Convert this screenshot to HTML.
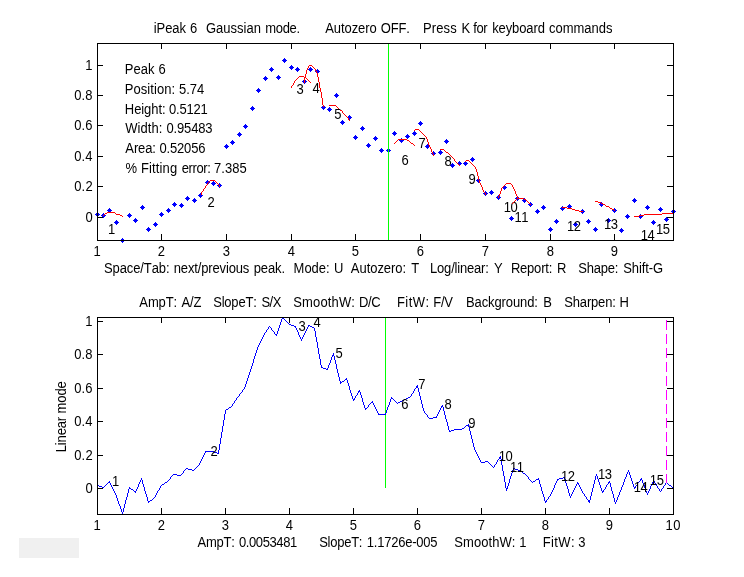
<!DOCTYPE html>
<html><head><meta charset="utf-8"><title>iPeak 6</title>
<style>
html,body{margin:0;padding:0;background:#fff;}
body{width:744px;height:577px;overflow:hidden;}
svg{display:block;}
text{font-family:"Liberation Sans",Arial,Helvetica,sans-serif;font-size:13.0px;fill:#000;white-space:pre;font-kerning:none;}
.ax{stroke:#000;stroke-width:1;fill:none;shape-rendering:crispEdges;}
.ln{stroke-width:1;fill:none;}
</style></head>
<body>
<svg width="744" height="577" viewBox="0 0 744 577">
<rect x="0" y="0" width="744" height="577" fill="#fff"/>
<rect x="19" y="538" width="60" height="20" fill="#f0f0f0"/>
<text transform="translate(0 256) scale(1 1.08)"><tspan x="93.61">1</tspan></text>
<text transform="translate(0 256) scale(1 1.08)"><tspan x="157.79">2</tspan></text>
<text transform="translate(0 256) scale(1 1.08)"><tspan x="222.82">3</tspan></text>
<text transform="translate(0 256) scale(1 1.08)"><tspan x="287.83">4</tspan></text>
<text transform="translate(0 256) scale(1 1.08)"><tspan x="351.8">5</tspan></text>
<text transform="translate(0 256) scale(1 1.08)"><tspan x="416.74">6</tspan></text>
<text transform="translate(0 256) scale(1 1.08)"><tspan x="481.78">7</tspan></text>
<text transform="translate(0 256) scale(1 1.08)"><tspan x="546.79">8</tspan></text>
<text transform="translate(0 256) scale(1 1.08)"><tspan x="610.79">9</tspan></text>
<text transform="translate(0 222) scale(1 1.08)"><tspan x="85.39">0</tspan></text>
<text transform="translate(0 191) scale(1 1.08)"><tspan x="74.19" style="letter-spacing:0.19px">0.2</tspan></text>
<text transform="translate(0 161) scale(1 1.08)"><tspan x="74.19" style="letter-spacing:0.06px">0.4</tspan></text>
<text transform="translate(0 130) scale(1 1.08)"><tspan x="74.19" style="letter-spacing:0.15px">0.6</tspan></text>
<text transform="translate(0 100) scale(1 1.08)"><tspan x="74.19" style="letter-spacing:0.15px">0.8</tspan></text>
<text transform="translate(0 70) scale(1 1.08)"><tspan x="85.21">1</tspan></text>
<path d="M97 212h1v1h1v1h1v1h-1v1h-1v1h-1v-1h-1v-1h-1v-1h1v-1h1zM103 213h1v1h1v1h1v1h-1v1h-1v1h-1v-1h-1v-1h-1v-1h1v-1h1zM109 208h1v1h1v1h1v1h-1v1h-1v1h-1v-1h-1v-1h-1v-1h1v-1h1zM116 220h1v1h1v1h1v1h-1v1h-1v1h-1v-1h-1v-1h-1v-1h1v-1h1zM122 238h1v1h1v1h1v1h-1v1h-1v1h-1v-1h-1v-1h-1v-1h1v-1h1zM129 213h1v1h1v1h1v1h-1v1h-1v1h-1v-1h-1v-1h-1v-1h1v-1h1zM135 218h1v1h1v1h1v1h-1v1h-1v1h-1v-1h-1v-1h-1v-1h1v-1h1zM142 205h1v1h1v1h1v1h-1v1h-1v1h-1v-1h-1v-1h-1v-1h1v-1h1zM148 227h1v1h1v1h1v1h-1v1h-1v1h-1v-1h-1v-1h-1v-1h1v-1h1zM155 222h1v1h1v1h1v1h-1v1h-1v1h-1v-1h-1v-1h-1v-1h1v-1h1zM161 212h1v1h1v1h1v1h-1v1h-1v1h-1v-1h-1v-1h-1v-1h1v-1h1zM168 208h1v1h1v1h1v1h-1v1h-1v1h-1v-1h-1v-1h-1v-1h1v-1h1zM174 202h1v1h1v1h1v1h-1v1h-1v1h-1v-1h-1v-1h-1v-1h1v-1h1zM181 203h1v1h1v1h1v1h-1v1h-1v1h-1v-1h-1v-1h-1v-1h1v-1h1zM187 196h1v1h1v1h1v1h-1v1h-1v1h-1v-1h-1v-1h-1v-1h1v-1h1zM194 198h1v1h1v1h1v1h-1v1h-1v1h-1v-1h-1v-1h-1v-1h1v-1h1zM200 193h1v1h1v1h1v1h-1v1h-1v1h-1v-1h-1v-1h-1v-1h1v-1h1zM207 180h1v1h1v1h1v1h-1v1h-1v1h-1v-1h-1v-1h-1v-1h1v-1h1zM213 181h1v1h1v1h1v1h-1v1h-1v1h-1v-1h-1v-1h-1v-1h1v-1h1zM219 183h1v1h1v1h1v1h-1v1h-1v1h-1v-1h-1v-1h-1v-1h1v-1h1zM226 144h1v1h1v1h1v1h-1v1h-1v1h-1v-1h-1v-1h-1v-1h1v-1h1zM232 140h1v1h1v1h1v1h-1v1h-1v1h-1v-1h-1v-1h-1v-1h1v-1h1zM239 132h1v1h1v1h1v1h-1v1h-1v1h-1v-1h-1v-1h-1v-1h1v-1h1zM245 124h1v1h1v1h1v1h-1v1h-1v1h-1v-1h-1v-1h-1v-1h1v-1h1zM252 106h1v1h1v1h1v1h-1v1h-1v1h-1v-1h-1v-1h-1v-1h1v-1h1zM258 88h1v1h1v1h1v1h-1v1h-1v1h-1v-1h-1v-1h-1v-1h1v-1h1zM265 76h1v1h1v1h1v1h-1v1h-1v1h-1v-1h-1v-1h-1v-1h1v-1h1zM271 67h1v1h1v1h1v1h-1v1h-1v1h-1v-1h-1v-1h-1v-1h1v-1h1zM278 75h1v1h1v1h1v1h-1v1h-1v1h-1v-1h-1v-1h-1v-1h1v-1h1zM284 58h1v1h1v1h1v1h-1v1h-1v1h-1v-1h-1v-1h-1v-1h1v-1h1zM291 65h1v1h1v1h1v1h-1v1h-1v1h-1v-1h-1v-1h-1v-1h1v-1h1zM297 67h1v1h1v1h1v1h-1v1h-1v1h-1v-1h-1v-1h-1v-1h1v-1h1zM304 79h1v1h1v1h1v1h-1v1h-1v1h-1v-1h-1v-1h-1v-1h1v-1h1zM310 67h1v1h1v1h1v1h-1v1h-1v1h-1v-1h-1v-1h-1v-1h1v-1h1zM317 69h1v1h1v1h1v1h-1v1h-1v1h-1v-1h-1v-1h-1v-1h1v-1h1zM323 105h1v1h1v1h1v1h-1v1h-1v1h-1v-1h-1v-1h-1v-1h1v-1h1zM329 107h1v1h1v1h1v1h-1v1h-1v1h-1v-1h-1v-1h-1v-1h1v-1h1zM336 93h1v1h1v1h1v1h-1v1h-1v1h-1v-1h-1v-1h-1v-1h1v-1h1zM342 120h1v1h1v1h1v1h-1v1h-1v1h-1v-1h-1v-1h-1v-1h1v-1h1zM349 115h1v1h1v1h1v1h-1v1h-1v1h-1v-1h-1v-1h-1v-1h1v-1h1zM355 135h1v1h1v1h1v1h-1v1h-1v1h-1v-1h-1v-1h-1v-1h1v-1h1zM362 126h1v1h1v1h1v1h-1v1h-1v1h-1v-1h-1v-1h-1v-1h1v-1h1zM368 143h1v1h1v1h1v1h-1v1h-1v1h-1v-1h-1v-1h-1v-1h1v-1h1zM375 136h1v1h1v1h1v1h-1v1h-1v1h-1v-1h-1v-1h-1v-1h1v-1h1zM381 148h1v1h1v1h1v1h-1v1h-1v1h-1v-1h-1v-1h-1v-1h1v-1h1zM388 148h1v1h1v1h1v1h-1v1h-1v1h-1v-1h-1v-1h-1v-1h1v-1h1zM394 131h1v1h1v1h1v1h-1v1h-1v1h-1v-1h-1v-1h-1v-1h1v-1h1zM401 138h1v1h1v1h1v1h-1v1h-1v1h-1v-1h-1v-1h-1v-1h1v-1h1zM407 134h1v1h1v1h1v1h-1v1h-1v1h-1v-1h-1v-1h-1v-1h1v-1h1zM414 131h1v1h1v1h1v1h-1v1h-1v1h-1v-1h-1v-1h-1v-1h1v-1h1zM420 121h1v1h1v1h1v1h-1v1h-1v1h-1v-1h-1v-1h-1v-1h1v-1h1zM427 144h1v1h1v1h1v1h-1v1h-1v1h-1v-1h-1v-1h-1v-1h1v-1h1zM433 151h1v1h1v1h1v1h-1v1h-1v1h-1v-1h-1v-1h-1v-1h1v-1h1zM440 150h1v1h1v1h1v1h-1v1h-1v1h-1v-1h-1v-1h-1v-1h1v-1h1zM446 139h1v1h1v1h1v1h-1v1h-1v1h-1v-1h-1v-1h-1v-1h1v-1h1zM452 163h1v1h1v1h1v1h-1v1h-1v1h-1v-1h-1v-1h-1v-1h1v-1h1zM459 161h1v1h1v1h1v1h-1v1h-1v1h-1v-1h-1v-1h-1v-1h1v-1h1zM465 161h1v1h1v1h1v1h-1v1h-1v1h-1v-1h-1v-1h-1v-1h1v-1h1zM472 157h1v1h1v1h1v1h-1v1h-1v1h-1v-1h-1v-1h-1v-1h1v-1h1zM478 178h1v1h1v1h1v1h-1v1h-1v1h-1v-1h-1v-1h-1v-1h1v-1h1zM485 191h1v1h1v1h1v1h-1v1h-1v1h-1v-1h-1v-1h-1v-1h1v-1h1zM491 190h1v1h1v1h1v1h-1v1h-1v1h-1v-1h-1v-1h-1v-1h1v-1h1zM498 195h1v1h1v1h1v1h-1v1h-1v1h-1v-1h-1v-1h-1v-1h1v-1h1zM504 185h1v1h1v1h1v1h-1v1h-1v1h-1v-1h-1v-1h-1v-1h1v-1h1zM511 216h1v1h1v1h1v1h-1v1h-1v1h-1v-1h-1v-1h-1v-1h1v-1h1zM517 196h1v1h1v1h1v1h-1v1h-1v1h-1v-1h-1v-1h-1v-1h1v-1h1zM524 198h1v1h1v1h1v1h-1v1h-1v1h-1v-1h-1v-1h-1v-1h1v-1h1zM530 202h1v1h1v1h1v1h-1v1h-1v1h-1v-1h-1v-1h-1v-1h1v-1h1zM537 209h1v1h1v1h1v1h-1v1h-1v1h-1v-1h-1v-1h-1v-1h1v-1h1zM543 205h1v1h1v1h1v1h-1v1h-1v1h-1v-1h-1v-1h-1v-1h1v-1h1zM550 227h1v1h1v1h1v1h-1v1h-1v1h-1v-1h-1v-1h-1v-1h1v-1h1zM556 219h1v1h1v1h1v1h-1v1h-1v1h-1v-1h-1v-1h-1v-1h1v-1h1zM562 206h1v1h1v1h1v1h-1v1h-1v1h-1v-1h-1v-1h-1v-1h1v-1h1zM569 204h1v1h1v1h1v1h-1v1h-1v1h-1v-1h-1v-1h-1v-1h1v-1h1zM575 222h1v1h1v1h1v1h-1v1h-1v1h-1v-1h-1v-1h-1v-1h1v-1h1zM582 209h1v1h1v1h1v1h-1v1h-1v1h-1v-1h-1v-1h-1v-1h1v-1h1zM588 219h1v1h1v1h1v1h-1v1h-1v1h-1v-1h-1v-1h-1v-1h1v-1h1zM595 227h1v1h1v1h1v1h-1v1h-1v1h-1v-1h-1v-1h-1v-1h1v-1h1zM601 202h1v1h1v1h1v1h-1v1h-1v1h-1v-1h-1v-1h-1v-1h1v-1h1zM608 218h1v1h1v1h1v1h-1v1h-1v1h-1v-1h-1v-1h-1v-1h1v-1h1zM614 208h1v1h1v1h1v1h-1v1h-1v1h-1v-1h-1v-1h-1v-1h1v-1h1zM621 228h1v1h1v1h1v1h-1v1h-1v1h-1v-1h-1v-1h-1v-1h1v-1h1zM627 214h1v1h1v1h1v1h-1v1h-1v1h-1v-1h-1v-1h-1v-1h1v-1h1zM634 198h1v1h1v1h1v1h-1v1h-1v1h-1v-1h-1v-1h-1v-1h1v-1h1zM640 214h1v1h1v1h1v1h-1v1h-1v1h-1v-1h-1v-1h-1v-1h1v-1h1zM647 205h1v1h1v1h1v1h-1v1h-1v1h-1v-1h-1v-1h-1v-1h1v-1h1zM653 220h1v1h1v1h1v1h-1v1h-1v1h-1v-1h-1v-1h-1v-1h1v-1h1zM660 207h1v1h1v1h1v1h-1v1h-1v1h-1v-1h-1v-1h-1v-1h1v-1h1zM666 217h1v1h1v1h1v1h-1v1h-1v1h-1v-1h-1v-1h-1v-1h1v-1h1zM673 209h1v1h1v1h1v1h-1v1h-1v1h-1v-1h-1v-1h-1v-1h1v-1h1z" fill="#0000ff" stroke="none"/>
<path d="M388.5 44V240" stroke="#00ff00" class="ln" shape-rendering="crispEdges"/>
<path d="M107 212h8v1h-8zM105 213h2v1h-2zM115 213h1v1h-1zM104 214h1v1h-1zM116 214h4v1h-4zM103 215h1v1h-1zM120 215h2v1h-2zM122 216h1v1h-1z" fill="#ff0000" stroke="none" shape-rendering="crispEdges"/>
<text transform="translate(0 234) scale(1 1.08)"><tspan x="107.91">1</tspan></text>
<path d="M201 192h1v3h-1zM202 191h1v1h-1zM203 189h1v2h-1zM204 188h1v1h-1zM205 186h1v2h-1zM206 185h1v1h-1zM207 183h1v2h-1zM208 182h1v1h-1zM209 181h1v1h-1zM210 180h1v1h-1zM211 180h1v1h-1zM212 180h1v1h-1zM213 180h1v1h-1zM214 180h1v1h-1zM215 181h1v1h-1zM216 182h1v1h-1zM217 183h1v1h-1zM218 184h1v1h-1zM219 185h1v2h-1z" fill="#ff0000" stroke="none" shape-rendering="crispEdges"/>
<text transform="translate(0 207) scale(1 1.08)"><tspan x="207.44">2</tspan></text>
<path d="M299 76h5v1h-5zM298 77h1v1h-1zM304 77h2v1h-2zM297 78h1v1h-1zM306 78h1v1h-1zM296 79h1v1h-1zM307 79h1v1h-1zM295 80h1v1h-1zM308 80h1v1h-1zM294 81h1v1h-1zM309 81h1v1h-1zM294 82h1v1h-1zM310 82h1v1h-1zM293 83h1v1h-1zM293 84h1v1h-1zM292 85h1v1h-1zM291 86h1v1h-1zM291 87h1v1h-1z" fill="#ff0000" stroke="none" shape-rendering="crispEdges"/>
<text transform="translate(0 94) scale(1 1.08)"><tspan x="296.42">3</tspan></text>
<path d="M304 78h1v5h-1zM305 74h1v4h-1zM306 70h1v4h-1zM307 68h1v2h-1zM308 66h1v2h-1zM309 65h1v1h-1zM310 65h1v1h-1zM311 65h1v1h-1zM312 66h1v1h-1zM313 67h1v1h-1zM314 68h1v1h-1zM315 69h1v2h-1zM316 71h1v2h-1zM317 73h1v4h-1zM318 77h1v5h-1zM319 82h1v6h-1zM320 88h1v4h-1zM321 92h1v6h-1zM322 98h1v7h-1zM323 105h1v2h-1z" fill="#ff0000" stroke="none" shape-rendering="crispEdges"/>
<text transform="translate(0 93) scale(1 1.08)"><tspan x="312.43">4</tspan></text>
<path d="M329 105h7v1h-7zM336 106h1v1h-1zM337 107h1v1h-1zM338 108h1v1h-1zM339 109h1v1h-1zM340 110h2v1h-2zM342 111h1v1h-1zM342 112h1v1h-1zM343 113h1v1h-1zM344 114h1v1h-1zM345 115h1v1h-1zM346 116h1v1h-1zM347 117h1v1h-1zM348 118h1v1h-1zM348 119h1v1h-1zM349 120h1v1h-1z" fill="#ff0000" stroke="none" shape-rendering="crispEdges"/>
<text transform="translate(0 119) scale(1 1.08)"><tspan x="334.3">5</tspan></text>
<path d="M398 139h9v1h-9zM397 140h1v1h-1zM407 140h2v1h-2zM396 141h1v1h-1zM409 141h1v1h-1zM395 142h1v1h-1zM410 142h1v1h-1zM394 143h1v1h-1zM411 143h2v1h-2zM413 144h1v1h-1zM414 145h1v1h-1z" fill="#ff0000" stroke="none" shape-rendering="crispEdges"/>
<text transform="translate(0 165) scale(1 1.08)"><tspan x="401.49">6</tspan></text>
<path d="M414 130h1v1h-1zM415 129h1v1h-1zM416 129h1v1h-1zM417 129h1v1h-1zM418 129h1v1h-1zM419 130h1v1h-1zM420 131h1v1h-1zM421 132h1v1h-1zM422 133h1v1h-1zM423 134h1v1h-1zM424 135h1v1h-1zM425 136h1v1h-1zM426 137h1v2h-1zM427 139h1v3h-1zM428 142h1v3h-1zM429 145h1v2h-1zM430 147h1v2h-1zM431 149h1v3h-1zM432 152h1v2h-1zM433 154h1v2h-1z" fill="#ff0000" stroke="none" shape-rendering="crispEdges"/>
<text transform="translate(0 148) scale(1 1.08)"><tspan x="418.53">7</tspan></text>
<path d="M440 149h4v1h-4zM444 150h1v1h-1zM445 151h1v1h-1zM446 152h2v1h-2zM448 153h1v1h-1zM449 154h1v1h-1zM450 155h1v1h-1zM451 156h1v1h-1zM452 157h1v1h-1zM453 158h1v1h-1zM454 159h1v1h-1zM454 160h1v1h-1zM455 161h1v1h-1zM456 162h1v1h-1zM457 163h1v1h-1zM458 164h1v1h-1zM459 165h1v1h-1z" fill="#ff0000" stroke="none" shape-rendering="crispEdges"/>
<text transform="translate(0 166) scale(1 1.08)"><tspan x="444.49">8</tspan></text>
<path d="M465 161h1v1h-1zM466 160h1v1h-1zM467 160h1v1h-1zM468 160h1v1h-1zM469 161h1v1h-1zM470 162h1v1h-1zM471 163h1v1h-1zM472 164h1v1h-1zM473 165h1v1h-1zM474 166h1v1h-1zM475 167h1v2h-1zM476 169h1v3h-1zM477 172h1v4h-1zM478 176h1v4h-1zM479 180h1v3h-1zM480 183h1v2h-1zM481 185h1v2h-1zM482 187h1v3h-1zM483 190h1v2h-1zM484 192h1v1h-1zM485 193h1v2h-1z" fill="#ff0000" stroke="none" shape-rendering="crispEdges"/>
<text transform="translate(0 184) scale(1 1.08)"><tspan x="468.49">9</tspan></text>
<path d="M498 196h1v2h-1zM499 194h1v2h-1zM500 191h1v3h-1zM501 188h1v3h-1zM502 187h1v1h-1zM503 186h1v1h-1zM504 185h1v1h-1zM505 184h1v1h-1zM506 183h1v1h-1zM507 183h1v1h-1zM508 183h1v1h-1zM509 183h1v1h-1zM510 183h1v1h-1zM511 184h1v1h-1zM512 185h1v2h-1zM513 187h1v2h-1zM514 189h1v2h-1zM515 191h1v3h-1zM516 194h1v2h-1zM517 196h1v2h-1z" fill="#ff0000" stroke="none" shape-rendering="crispEdges"/>
<text transform="translate(0 212) scale(1 1.08)"><tspan x="503.7" style="letter-spacing:-0.45px">10</tspan></text>
<path d="M517 198h7v1h-7zM516 199h1v1h-1zM524 199h2v1h-2zM515 200h1v1h-1zM526 200h1v1h-1zM514 201h1v1h-1zM527 201h1v1h-1zM513 202h1v1h-1zM528 202h1v1h-1zM512 203h1v1h-1zM529 203h1v1h-1zM530 204h1v1h-1z" fill="#ff0000" stroke="none" shape-rendering="crispEdges"/>
<text transform="translate(0 222) scale(1 1.08)"><tspan x="514.42" style="letter-spacing:-0.45px">11</tspan></text>
<path d="M562 207h5v1h-5zM567 208h5v1h-5zM572 209h3v1h-3zM575 210h4v1h-4zM579 211h4v1h-4z" fill="#ff0000" stroke="none" shape-rendering="crispEdges"/>
<text transform="translate(0 231) scale(1 1.08)"><tspan x="566.91" style="letter-spacing:-0.32px">12</tspan></text>
<path d="M595 201h3v1h-3zM598 202h3v1h-3zM601 203h2v1h-2zM603 204h2v1h-2zM605 205h1v1h-1zM606 206h3v1h-3zM609 207h1v1h-1zM610 208h2v1h-2zM612 209h2v1h-2zM614 210h1v1h-1z" fill="#ff0000" stroke="none" shape-rendering="crispEdges"/>
<text transform="translate(0 229) scale(1 1.08)"><tspan x="603.89" style="letter-spacing:-0.45px">13</tspan></text>
<path d="M662 213h12v1h-12zM644 214h18v1h-18zM639 215h5v1h-5zM634 216h5v1h-5z" fill="#ff0000" stroke="none" shape-rendering="crispEdges"/>
<text transform="translate(0 240) scale(1 1.08)"><tspan x="640.84" style="letter-spacing:-0.45px">14</tspan></text>
<text transform="translate(0 234) scale(1 1.08)"><tspan x="655.92" style="letter-spacing:-0.45px">15</tspan></text>
<g class="ax"><rect x="97.5" y="43.5" width="576" height="197"/><path d="M97.5 240.5v-6.5M97.5 43.5v5.5M161.5 240.5v-6.5M161.5 43.5v5.5M226.5 240.5v-6.5M226.5 43.5v5.5M291.5 240.5v-6.5M291.5 43.5v5.5M355.5 240.5v-6.5M355.5 43.5v5.5M420.5 240.5v-6.5M420.5 43.5v5.5M485.5 240.5v-6.5M485.5 43.5v5.5M550.5 240.5v-6.5M550.5 43.5v5.5M614.5 240.5v-6.5M614.5 43.5v5.5M97.5 217.5h5.5M673.5 217.5h-6.5M97.5 186.5h5.5M673.5 186.5h-6.5M97.5 156.5h5.5M673.5 156.5h-6.5M97.5 125.5h5.5M673.5 125.5h-6.5M97.5 95.5h5.5M673.5 95.5h-6.5M97.5 65.5h5.5M673.5 65.5h-6.5"/></g>
<text transform="translate(0 74) scale(1 1.08)"><tspan x="124.83" style="letter-spacing:0.01px">Peak </tspan><tspan x="158.49">6</tspan></text>
<text transform="translate(0 94) scale(1 1.08)"><tspan x="124.83" style="letter-spacing:0.06px">Position: </tspan><tspan x="179.08" style="letter-spacing:-0.03px">5.74</tspan></text>
<text transform="translate(0 114) scale(1 1.08)"><tspan x="124.83" style="letter-spacing:-0.07px">Height: </tspan><tspan x="169.09" style="letter-spacing:-0.22px">0.5121</tspan></text>
<text transform="translate(0 133) scale(1 1.08)"><tspan x="125.34" style="letter-spacing:0.04px">Width: </tspan><tspan x="166.49" style="letter-spacing:-0.14px">0.95483</tspan></text>
<text transform="translate(0 153) scale(1 1.08)"><tspan x="125.37" style="letter-spacing:-0.14px">Area: </tspan><tspan x="159.39" style="letter-spacing:-0.14px">0.52056</tspan></text>
<text transform="translate(0 173) scale(1 1.08)"><tspan x="125.47">% </tspan><tspan x="141.03" style="letter-spacing:0.12px">Fitting </tspan><tspan x="181.65" style="letter-spacing:-0.36px">error: </tspan><tspan x="214.03" style="letter-spacing:0.05px">7.385</tspan></text>
<text transform="translate(0 33) scale(1 1.08)"><tspan x="153.83" style="letter-spacing:-0.09px">iPeak </tspan><tspan x="190.09">6  </tspan><tspan x="205.95" style="letter-spacing:0.01px">Gaussian </tspan><tspan x="265.24" style="letter-spacing:-0.3px">mode.       </tspan><tspan x="325.17" style="letter-spacing:-0.05px">Autozero </tspan><tspan x="380.68" style="letter-spacing:-0.1px">OFF.   </tspan><tspan x="423.03" style="letter-spacing:0.13px">Press </tspan><tspan x="461.4">K </tspan><tspan x="473.38" style="letter-spacing:-0.45px">for </tspan><tspan x="492.22" style="letter-spacing:-0.1px">keyboard </tspan><tspan x="549.05" style="letter-spacing:-0.02px">commands</tspan></text>
<text transform="translate(0 273) scale(1 1.08)"><tspan x="104.01" style="letter-spacing:-0.1px">Space/Tab: </tspan><tspan x="173.74" style="letter-spacing:-0.14px">next/previous </tspan><tspan x="253.66" style="letter-spacing:-0.09px">peak.  </tspan><tspan x="293.63" style="letter-spacing:-0.04px">Mode: </tspan><tspan x="333.96">U  </tspan><tspan x="350.87" style="letter-spacing:-0.04px">Autozero: </tspan><tspan x="411.28">T   </tspan><tspan x="430.03" style="letter-spacing:-0.18px">Log/linear: </tspan><tspan x="494.01">Y  </tspan><tspan x="510.93" style="letter-spacing:-0.21px">Report: </tspan><tspan x="556.92">R   </tspan><tspan x="578.31" style="letter-spacing:-0.23px">Shape: </tspan><tspan x="623.31" style="letter-spacing:-0.1px">Shift-G</tspan></text>
<text transform="translate(0 307) scale(1 1.08)"><tspan x="139.37" style="letter-spacing:-0.12px">AmpT: </tspan><tspan x="181.57" style="letter-spacing:-0.2px">A/Z   </tspan><tspan x="213.21" style="letter-spacing:-0.2px">SlopeT: </tspan><tspan x="261.41" style="letter-spacing:-0.45px">S/X   </tspan><tspan x="293.21" style="letter-spacing:0.16px">SmoothW: </tspan><tspan x="359.12" style="letter-spacing:-0.45px">D/C    </tspan><tspan x="396.93" style="letter-spacing:0.46px">FitW: </tspan><tspan x="433.23" style="letter-spacing:-0.25px">F/V   </tspan><tspan x="466.03" style="letter-spacing:-0.1px">Background: </tspan><tspan x="543.17">B   </tspan><tspan x="564.31" style="letter-spacing:-0.17px">Sharpen: </tspan><tspan x="619.6">H</tspan></text>
<text transform="translate(0 547) scale(1 1.08)"><tspan x="197.57" style="letter-spacing:-0.24px">AmpT: </tspan><tspan x="238.89" style="letter-spacing:-0.38px">0.0053481     </tspan><tspan x="319.21" style="letter-spacing:-0.25px">SlopeT: </tspan><tspan x="366.81" style="letter-spacing:-0.22px">1.1726e-005     </tspan><tspan x="454.31" style="letter-spacing:0.06px">SmoothW: </tspan><tspan x="519.26">1    </tspan><tspan x="542.73" style="letter-spacing:0.41px">FitW: </tspan><tspan x="578.32">3</tspan></text>
<text transform="translate(66 451.3) rotate(-90) scale(1 1.08)" x="-1.07" y="0" style="letter-spacing:-0.11px">Linear mode</text>
<text transform="translate(0 530) scale(1 1.08)"><tspan x="93.61">1</tspan></text>
<text transform="translate(0 530) scale(1 1.08)"><tspan x="157.79">2</tspan></text>
<text transform="translate(0 530) scale(1 1.08)"><tspan x="221.82">3</tspan></text>
<text transform="translate(0 530) scale(1 1.08)"><tspan x="285.83">4</tspan></text>
<text transform="translate(0 530) scale(1 1.08)"><tspan x="349.8">5</tspan></text>
<text transform="translate(0 530) scale(1 1.08)"><tspan x="413.74">6</tspan></text>
<text transform="translate(0 530) scale(1 1.08)"><tspan x="477.78">7</tspan></text>
<text transform="translate(0 530) scale(1 1.08)"><tspan x="541.79">8</tspan></text>
<text transform="translate(0 530) scale(1 1.08)"><tspan x="605.79">9</tspan></text>
<text transform="translate(0 530) scale(1 1.08)"><tspan x="665.61" style="letter-spacing:0.34px">10</tspan></text>
<text transform="translate(0 493) scale(1 1.08)"><tspan x="85.39">0</tspan></text>
<text transform="translate(0 460) scale(1 1.08)"><tspan x="74.19" style="letter-spacing:0.19px">0.2</tspan></text>
<text transform="translate(0 426) scale(1 1.08)"><tspan x="74.19" style="letter-spacing:0.06px">0.4</tspan></text>
<text transform="translate(0 393) scale(1 1.08)"><tspan x="74.19" style="letter-spacing:0.15px">0.6</tspan></text>
<text transform="translate(0 359) scale(1 1.08)"><tspan x="74.19" style="letter-spacing:0.15px">0.8</tspan></text>
<text transform="translate(0 326) scale(1 1.08)"><tspan x="85.21">1</tspan></text>
<path d="M385.5 318V488" stroke="#00ff00" class="ln" shape-rendering="crispEdges"/>
<path d="M97 485h1v1h-1zM98 485h1v1h-1zM99 486h1v1h-1zM100 486h1v1h-1zM101 486h1v1h-1zM102 487h1v1h-1zM103 487h1v1h-1zM104 486h1v1h-1zM105 485h1v1h-1zM106 484h1v1h-1zM107 483h1v1h-1zM108 482h1v1h-1zM109 481h1v2h-1zM110 483h1v2h-1zM111 485h1v2h-1zM112 487h1v2h-1zM113 489h1v2h-1zM114 491h1v2h-1zM115 493h1v2h-1zM116 495h1v3h-1zM117 498h1v3h-1zM118 501h1v3h-1zM119 504h1v2h-1zM120 506h1v3h-1zM121 509h1v3h-1zM122 512h1v2h-1zM123 508h1v4h-1zM124 504h1v4h-1zM125 500h1v4h-1zM126 497h1v3h-1zM127 493h1v4h-1zM128 489h1v4h-1zM129 487h1v2h-1zM130 488h1v1h-1zM131 489h1v1h-1zM132 489h1v1h-1zM133 490h1v1h-1zM134 491h1v1h-1zM135 491h1v2h-1zM136 489h1v2h-1zM137 487h1v2h-1zM138 484h1v3h-1zM139 482h1v2h-1zM140 480h1v2h-1zM141 478h1v2h-1zM142 480h1v4h-1zM143 484h1v3h-1zM144 487h1v4h-1zM145 491h1v3h-1zM146 494h1v3h-1zM147 497h1v4h-1zM148 501h1v2h-1zM149 501h1v1h-1zM150 500h1v1h-1zM151 500h1v1h-1zM152 499h1v1h-1zM153 498h1v1h-1zM154 497h1v1h-1zM155 495h1v2h-1zM156 493h1v2h-1zM157 491h1v2h-1zM158 490h1v1h-1zM159 488h1v2h-1zM160 486h1v2h-1zM161 485h1v1h-1zM162 484h1v1h-1zM163 484h1v1h-1zM164 483h1v1h-1zM165 482h1v1h-1zM166 482h1v1h-1zM167 481h1v1h-1zM168 480h1v1h-1zM169 479h1v1h-1zM170 477h1v2h-1zM171 476h1v1h-1zM172 475h1v1h-1zM173 474h1v1h-1zM174 474h1v1h-1zM175 474h1v1h-1zM176 474h1v1h-1zM177 475h1v1h-1zM178 475h1v1h-1zM179 475h1v1h-1zM180 475h1v1h-1zM181 474h1v1h-1zM182 473h1v1h-1zM183 471h1v2h-1zM184 470h1v1h-1zM185 469h1v1h-1zM186 468h1v1h-1zM187 468h1v1h-1zM188 469h1v1h-1zM189 469h1v1h-1zM190 469h1v1h-1zM191 469h1v1h-1zM192 470h1v1h-1zM193 470h1v1h-1zM194 469h1v1h-1zM195 468h1v1h-1zM196 467h1v1h-1zM197 466h1v1h-1zM198 465h1v1h-1zM199 463h1v2h-1zM200 461h1v2h-1zM201 459h1v2h-1zM202 457h1v2h-1zM203 455h1v2h-1zM204 453h1v2h-1zM205 451h1v2h-1zM206 451h1v1h-1zM207 451h1v1h-1zM208 451h1v1h-1zM209 451h1v1h-1zM210 451h1v1h-1zM211 451h1v1h-1zM212 451h1v1h-1zM213 451h1v1h-1zM214 452h1v1h-1zM215 452h1v1h-1zM216 452h1v1h-1zM217 453h1v1h-1zM218 450h1v4h-1zM219 444h1v6h-1zM220 438h1v6h-1zM221 432h1v6h-1zM222 426h1v6h-1zM223 420h1v6h-1zM224 414h1v6h-1zM225 410h1v4h-1zM226 409h1v1h-1zM227 409h1v1h-1zM228 408h1v1h-1zM229 407h1v1h-1zM230 407h1v1h-1zM231 406h1v1h-1zM232 404h1v2h-1zM233 403h1v1h-1zM234 401h1v2h-1zM235 400h1v1h-1zM236 398h1v2h-1zM237 397h1v1h-1zM238 396h1v1h-1zM239 394h1v2h-1zM240 393h1v1h-1zM241 392h1v1h-1zM242 390h1v2h-1zM243 389h1v1h-1zM244 387h1v2h-1zM245 384h1v3h-1zM246 381h1v3h-1zM247 378h1v3h-1zM248 375h1v3h-1zM249 372h1v3h-1zM250 369h1v3h-1zM251 366h1v3h-1zM252 363h1v3h-1zM253 359h1v4h-1zM254 356h1v3h-1zM255 353h1v3h-1zM256 350h1v3h-1zM257 347h1v3h-1zM258 345h1v2h-1zM259 343h1v2h-1zM260 341h1v2h-1zM261 339h1v2h-1zM262 337h1v2h-1zM263 335h1v2h-1zM264 333h1v2h-1zM265 332h1v1h-1zM266 330h1v2h-1zM267 329h1v1h-1zM268 327h1v2h-1zM269 326h1v1h-1zM270 327h1v1h-1zM271 328h1v2h-1zM272 330h1v1h-1zM273 331h1v1h-1zM274 332h1v2h-1zM275 334h1v1h-1zM276 334h1v2h-1zM277 331h1v3h-1zM278 328h1v3h-1zM279 325h1v3h-1zM280 322h1v3h-1zM281 319h1v3h-1zM282 317h1v2h-1zM283 318h1v1h-1zM284 319h1v1h-1zM285 320h1v1h-1zM286 321h1v1h-1zM287 322h1v1h-1zM288 323h1v1h-1zM289 324h1v1h-1zM290 324h1v1h-1zM291 325h1v1h-1zM292 325h1v1h-1zM293 325h1v1h-1zM294 326h1v1h-1zM295 326h1v2h-1zM296 328h1v2h-1zM297 330h1v2h-1zM298 332h1v3h-1zM299 335h1v2h-1zM300 337h1v2h-1zM301 339h1v2h-1zM302 337h1v2h-1zM303 335h1v2h-1zM304 333h1v2h-1zM305 331h1v2h-1zM306 329h1v2h-1zM307 327h1v2h-1zM308 325h1v2h-1zM309 325h1v1h-1zM310 326h1v1h-1zM311 326h1v1h-1zM312 327h1v1h-1zM313 327h1v1h-1zM314 328h1v3h-1zM315 331h1v6h-1zM316 337h1v5h-1zM317 342h1v6h-1zM318 348h1v6h-1zM319 354h1v5h-1zM320 359h1v6h-1zM321 365h1v3h-1zM322 367h1v1h-1zM323 368h1v1h-1zM324 368h1v1h-1zM325 368h1v1h-1zM326 369h1v1h-1zM327 368h1v2h-1zM328 365h1v3h-1zM329 363h1v2h-1zM330 360h1v3h-1zM331 357h1v3h-1zM332 355h1v2h-1zM333 353h1v3h-1zM334 356h1v4h-1zM335 360h1v4h-1zM336 364h1v5h-1zM337 369h1v4h-1zM338 373h1v4h-1zM339 377h1v4h-1zM340 381h1v3h-1zM341 382h1v1h-1zM342 381h1v1h-1zM343 381h1v1h-1zM344 380h1v1h-1zM345 379h1v1h-1zM346 378h1v2h-1zM347 380h1v3h-1zM348 383h1v3h-1zM349 386h1v4h-1zM350 390h1v3h-1zM351 393h1v3h-1zM352 396h1v3h-1zM353 399h1v2h-1zM354 398h1v2h-1zM355 396h1v2h-1zM356 395h1v1h-1zM357 393h1v2h-1zM358 391h1v2h-1zM359 390h1v2h-1zM360 392h1v3h-1zM361 395h1v3h-1zM362 398h1v4h-1zM363 402h1v3h-1zM364 405h1v3h-1zM365 408h1v2h-1zM366 408h1v1h-1zM367 407h1v1h-1zM368 405h1v2h-1zM369 404h1v1h-1zM370 403h1v1h-1zM371 402h1v1h-1zM372 401h1v2h-1zM373 403h1v2h-1zM374 405h1v2h-1zM375 407h1v2h-1zM376 409h1v2h-1zM377 411h1v2h-1zM378 413h1v2h-1zM379 414h1v1h-1zM380 414h1v1h-1zM381 414h1v1h-1zM382 414h1v1h-1zM383 414h1v1h-1zM384 414h1v1h-1zM385 413h1v2h-1zM386 410h1v3h-1zM387 407h1v3h-1zM388 405h1v2h-1zM389 402h1v3h-1zM390 399h1v3h-1zM391 397h1v2h-1zM392 398h1v1h-1zM393 399h1v1h-1zM394 400h1v1h-1zM395 401h1v1h-1zM396 402h1v1h-1zM397 403h1v1h-1zM398 402h1v1h-1zM399 402h1v1h-1zM400 401h1v1h-1zM401 401h1v1h-1zM402 400h1v1h-1zM403 400h1v1h-1zM404 399h1v1h-1zM405 399h1v1h-1zM406 398h1v1h-1zM407 398h1v1h-1zM408 397h1v1h-1zM409 397h1v1h-1zM410 396h1v1h-1zM411 394h1v2h-1zM412 393h1v1h-1zM413 391h1v2h-1zM414 389h1v2h-1zM415 388h1v1h-1zM416 386h1v2h-1zM417 385h1v3h-1zM418 388h1v4h-1zM419 392h1v4h-1zM420 396h1v4h-1zM421 400h1v4h-1zM422 404h1v4h-1zM423 408h1v3h-1zM424 411h1v2h-1zM425 413h1v1h-1zM426 414h1v1h-1zM427 415h1v2h-1zM428 417h1v1h-1zM429 418h1v1h-1zM430 418h1v1h-1zM431 418h1v1h-1zM432 418h1v1h-1zM433 417h1v1h-1zM434 417h1v1h-1zM435 417h1v1h-1zM436 416h1v2h-1zM437 414h1v2h-1zM438 412h1v2h-1zM439 410h1v2h-1zM440 408h1v2h-1zM441 406h1v2h-1zM442 405h1v2h-1zM443 407h1v4h-1zM444 411h1v4h-1zM445 415h1v4h-1zM446 419h1v3h-1zM447 422h1v4h-1zM448 426h1v4h-1zM449 430h1v2h-1zM450 431h1v1h-1zM451 430h1v1h-1zM452 430h1v1h-1zM453 430h1v1h-1zM454 429h1v1h-1zM455 429h1v1h-1zM456 429h1v1h-1zM457 429h1v1h-1zM458 429h1v1h-1zM459 429h1v1h-1zM460 429h1v1h-1zM461 429h1v1h-1zM462 428h1v1h-1zM463 428h1v1h-1zM464 427h1v1h-1zM465 426h1v1h-1zM466 425h1v1h-1zM467 425h1v1h-1zM468 424h1v3h-1zM469 427h1v4h-1zM470 431h1v4h-1zM471 435h1v4h-1zM472 439h1v4h-1zM473 443h1v4h-1zM474 447h1v3h-1zM475 450h1v2h-1zM476 452h1v2h-1zM477 454h1v2h-1zM478 456h1v2h-1zM479 458h1v2h-1zM480 460h1v2h-1zM481 462h1v1h-1zM482 462h1v1h-1zM483 462h1v1h-1zM484 462h1v1h-1zM485 461h1v1h-1zM486 461h1v1h-1zM487 461h1v1h-1zM488 462h1v1h-1zM489 463h1v1h-1zM490 464h1v1h-1zM491 465h1v1h-1zM492 466h1v1h-1zM493 467h1v1h-1zM494 465h1v2h-1zM495 464h1v1h-1zM496 462h1v2h-1zM497 460h1v2h-1zM498 459h1v1h-1zM499 457h1v2h-1zM500 456h1v3h-1zM501 459h1v6h-1zM502 465h1v6h-1zM503 471h1v5h-1zM504 476h1v6h-1zM505 482h1v6h-1zM506 488h1v3h-1zM507 486h1v3h-1zM508 483h1v3h-1zM509 479h1v4h-1zM510 476h1v3h-1zM511 473h1v3h-1zM512 470h1v3h-1zM513 468h1v2h-1zM514 468h1v1h-1zM515 469h1v1h-1zM516 469h1v1h-1zM517 469h1v1h-1zM518 470h1v1h-1zM519 470h1v1h-1zM520 471h1v1h-1zM521 471h1v1h-1zM522 472h1v1h-1zM523 473h1v1h-1zM524 473h1v1h-1zM525 474h1v1h-1zM526 475h1v1h-1zM527 476h1v1h-1zM528 477h1v2h-1zM529 479h1v1h-1zM530 480h1v1h-1zM531 481h1v1h-1zM532 482h1v1h-1zM533 481h1v1h-1zM534 481h1v1h-1zM535 480h1v1h-1zM536 479h1v1h-1zM537 479h1v1h-1zM538 478h1v2h-1zM539 480h1v4h-1zM540 484h1v3h-1zM541 487h1v4h-1zM542 491h1v3h-1zM543 494h1v3h-1zM544 497h1v4h-1zM545 501h1v2h-1zM546 500h1v2h-1zM547 499h1v1h-1zM548 497h1v2h-1zM549 496h1v1h-1zM550 494h1v2h-1zM551 492h1v2h-1zM552 490h1v2h-1zM553 488h1v2h-1zM554 485h1v3h-1zM555 483h1v2h-1zM556 481h1v2h-1zM557 479h1v2h-1zM558 479h1v1h-1zM559 478h1v1h-1zM560 478h1v1h-1zM561 478h1v1h-1zM562 478h1v1h-1zM563 477h1v1h-1zM564 477h1v2h-1zM565 479h1v4h-1zM566 483h1v3h-1zM567 486h1v3h-1zM568 489h1v4h-1zM569 493h1v3h-1zM570 496h1v2h-1zM571 494h1v2h-1zM572 492h1v2h-1zM573 490h1v2h-1zM574 488h1v2h-1zM575 486h1v2h-1zM576 484h1v2h-1zM577 482h1v2h-1zM578 483h1v2h-1zM579 485h1v2h-1zM580 487h1v2h-1zM581 489h1v2h-1zM582 491h1v2h-1zM583 493h1v1h-1zM584 494h1v2h-1zM585 496h1v1h-1zM586 497h1v2h-1zM587 499h1v1h-1zM588 500h1v2h-1zM589 500h1v3h-1zM590 496h1v4h-1zM591 492h1v4h-1zM592 488h1v4h-1zM593 484h1v4h-1zM594 480h1v4h-1zM595 476h1v4h-1zM596 474h1v2h-1zM597 476h1v3h-1zM598 479h1v3h-1zM599 482h1v3h-1zM600 485h1v3h-1zM601 488h1v3h-1zM602 491h1v2h-1zM603 490h1v2h-1zM604 489h1v1h-1zM605 487h1v2h-1zM606 485h1v2h-1zM607 484h1v1h-1zM608 482h1v2h-1zM609 481h1v2h-1zM610 483h1v4h-1zM611 487h1v4h-1zM612 491h1v3h-1zM613 494h1v4h-1zM614 498h1v4h-1zM615 502h1v2h-1zM616 500h1v2h-1zM617 497h1v3h-1zM618 495h1v2h-1zM619 492h1v3h-1zM620 490h1v2h-1zM621 487h1v3h-1zM622 485h1v2h-1zM623 482h1v3h-1zM624 479h1v3h-1zM625 477h1v2h-1zM626 474h1v3h-1zM627 472h1v2h-1zM628 470h1v2h-1zM629 472h1v3h-1zM630 475h1v3h-1zM631 478h1v3h-1zM632 481h1v3h-1zM633 484h1v3h-1zM634 487h1v2h-1zM635 486h1v2h-1zM636 485h1v1h-1zM637 483h1v2h-1zM638 482h1v1h-1zM639 481h1v1h-1zM640 479h1v2h-1zM641 478h1v2h-1zM642 480h1v3h-1zM643 483h1v2h-1zM644 485h1v3h-1zM645 488h1v3h-1zM646 491h1v2h-1zM647 493h1v2h-1zM648 491h1v2h-1zM649 489h1v2h-1zM650 486h1v3h-1zM651 484h1v2h-1zM652 482h1v2h-1zM653 480h1v2h-1zM654 481h1v2h-1zM655 483h1v1h-1zM656 484h1v2h-1zM657 486h1v2h-1zM658 488h1v1h-1zM659 489h1v2h-1zM660 491h1v1h-1zM661 489h1v2h-1zM662 488h1v1h-1zM663 486h1v2h-1zM664 485h1v1h-1zM665 483h1v2h-1zM666 482h1v1h-1zM667 483h1v1h-1zM668 484h1v1h-1zM669 485h1v1h-1zM670 485h1v1h-1zM671 486h1v1h-1zM672 487h1v1h-1zM673 488h1v1h-1z" fill="#0000ff" stroke="none" shape-rendering="crispEdges"/>
<path d="M666.5 320V483" stroke="#ff00ff" class="ln" stroke-dasharray="10 4" shape-rendering="crispEdges"/>
<g class="ax"><rect x="97.5" y="317.5" width="576" height="197"/><path d="M97.5 514.5v-6.5M97.5 317.5v5.5M161.5 514.5v-6.5M161.5 317.5v5.5M225.5 514.5v-6.5M225.5 317.5v5.5M289.5 514.5v-6.5M289.5 317.5v5.5M353.5 514.5v-6.5M353.5 317.5v5.5M417.5 514.5v-6.5M417.5 317.5v5.5M481.5 514.5v-6.5M481.5 317.5v5.5M545.5 514.5v-6.5M545.5 317.5v5.5M609.5 514.5v-6.5M609.5 317.5v5.5M673.5 514.5v-6.5M673.5 317.5v5.5M97.5 488.5h5.5M673.5 488.5h-6.5M97.5 455.5h5.5M673.5 455.5h-6.5M97.5 421.5h5.5M673.5 421.5h-6.5M97.5 388.5h5.5M673.5 388.5h-6.5M97.5 354.5h5.5M673.5 354.5h-6.5M97.5 321.5h5.5M673.5 321.5h-6.5"/></g>
<text transform="translate(0 486) scale(1 1.08)"><tspan x="112.01">1</tspan></text>
<text transform="translate(0 456) scale(1 1.08)"><tspan x="210.54">2</tspan></text>
<text transform="translate(0 331) scale(1 1.08)"><tspan x="298.57">3</tspan></text>
<text transform="translate(0 327) scale(1 1.08)"><tspan x="313.63">4</tspan></text>
<text transform="translate(0 358) scale(1 1.08)"><tspan x="335.45">5</tspan></text>
<text transform="translate(0 409) scale(1 1.08)"><tspan x="401.24">6</tspan></text>
<text transform="translate(0 389) scale(1 1.08)"><tspan x="418.33">7</tspan></text>
<text transform="translate(0 409) scale(1 1.08)"><tspan x="444.39">8</tspan></text>
<text transform="translate(0 428) scale(1 1.08)"><tspan x="468.34">9</tspan></text>
<text transform="translate(0 461) scale(1 1.08)"><tspan x="498.75" style="letter-spacing:-0.45px">10</tspan></text>
<text transform="translate(0 472) scale(1 1.08)"><tspan x="510.02" style="letter-spacing:-0.45px">11</tspan></text>
<text transform="translate(0 481) scale(1 1.08)"><tspan x="560.93" style="letter-spacing:-0.45px">12</tspan></text>
<text transform="translate(0 479) scale(1 1.08)"><tspan x="597.89" style="letter-spacing:-0.45px">13</tspan></text>
<text transform="translate(0 492) scale(1 1.08)"><tspan x="633.84" style="letter-spacing:-0.45px">14</tspan></text>
<text transform="translate(0 485) scale(1 1.08)"><tspan x="649.87" style="letter-spacing:-0.45px">15</tspan></text>
</svg>
</body></html>
